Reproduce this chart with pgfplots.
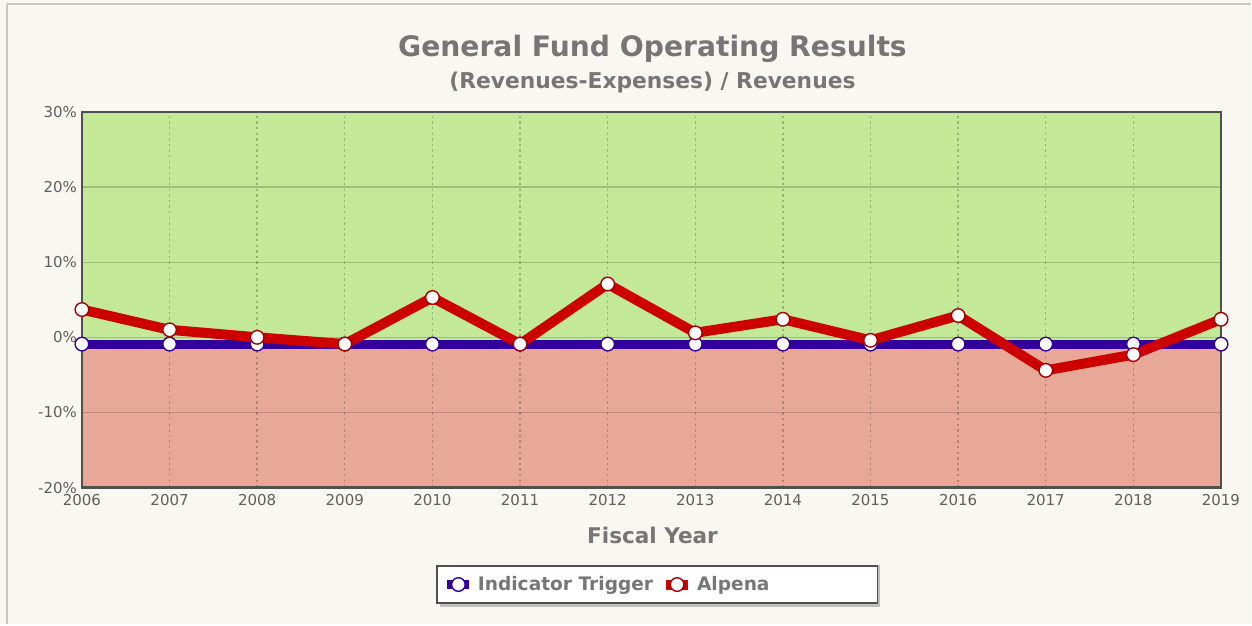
\documentclass[border=0pt]{standalone}
\usepackage{pgfplots}
\pgfplotsset{compat=1.18}
\usepackage{fontspec}
\setmainfont{DejaVu Sans}
\definecolor{bg}{RGB}{248,247,241}
\definecolor{goodfill}{RGB}{194,232,152}
\definecolor{badfill}{RGB}{232,168,152}
\definecolor{trig}{RGB}{51,0,153}
\definecolor{alp}{RGB}{204,0,0}
\definecolor{txt}{RGB}{118,118,118}
\definecolor{ticktxt}{RGB}{95,95,95}
\definecolor{frame}{RGB}{80,80,80}
\pgfplotsset{layers/mylayers/.define layer set={paper,axis background,axis grid,axis ticks,axis lines,axis tick labels,main,axis descriptions,axis foreground}{}}
\begin{document}
\begin{tikzpicture}[x=1pt,y=1pt]
\begin{axis}[
  set layers=mylayers,
  clip=false,
  at={(41pt,68.5pt)}, anchor=south west,
  scale only axis, width=570pt, height=188pt,
  xmin=2006, xmax=2019, ymin=-20, ymax=30,
  xtick={2006,...,2019}, ytick={-20,-10,0,10,20,30},
  yticklabel={\pgfmathprintnumber{\tick}\%},
  /pgf/number format/1000 sep={},
  /pgf/number format/assume math mode=true,
  ticklabel style={font=\fontsize{7.5}{9}\selectfont, text=ticktxt},
  xticklabel style={yshift=0pt},
  yticklabel style={xshift=1pt},
  major tick length=0pt,
  axis line style={draw=frame, line width=1.4pt},
  ymajorgrids, xmajorgrids,
  y grid style={black, opacity=0.18, line width=0.6pt},
  x grid style={black, opacity=0.22, dash pattern=on 1.2pt off 1.6pt, line width=0.7pt},
  legend columns=-1,
  legend style={at={(0.505,-0.258)}, anchor=center, draw=frame, line width=0.6pt, fill=white,
    font=\fontsize{9.3}{11}\selectfont\bfseries\color{txt},
    inner xsep=3pt, inner ysep=3pt,
    /tikz/every even column/.append style={column sep=2pt}},
  legend image code/.code={\draw[mark repeat=2,mark phase=2,#1] plot coordinates {(0pt,0pt) (5.5pt,0pt) (11pt,0pt)};},
]
\begin{pgfonlayer}{paper}
\fill[bg] ([xshift=-41pt,yshift=-68.5pt]rel axis cs:0,0) rectangle ++(626pt,312.5pt);
\draw[black!22, line width=1pt] ([xshift=-37.5pt,yshift=-68.5pt]rel axis cs:0,0) -- ++(0pt,310.5pt) -- ++(622.5pt,0pt);
\fill[black!25] ([xshift=-41pt,yshift=-68.5pt]rel axis cs:0,0) ++(220.2pt,8.6pt) rectangle ++(220pt,21pt);
\end{pgfonlayer}
\addplot[on layer=axis background, fill=goodfill, draw=none, forget plot] coordinates {(2006,-0.9) (2006,30) (2019,30) (2019,-0.9)};
\addplot[on layer=axis background, fill=badfill, draw=none, forget plot] coordinates {(2006,-20) (2006,-0.9) (2019,-0.9) (2019,-20)};
\addplot[trig, line width=4.5pt, mark=*, mark size=3.4pt, mark options={fill=white, draw=trig, line width=0.7pt}] coordinates {
(2006,-0.9) (2007,-0.9) (2008,-0.9) (2009,-0.9) (2010,-0.9) (2011,-0.9) (2012,-0.9)
(2013,-0.9) (2014,-0.9) (2015,-0.9) (2016,-0.9) (2017,-0.9) (2018,-0.9) (2019,-0.9)};
\addlegendentry{Indicator Trigger}
\addplot[alp, line width=5pt, line join=round, mark=*, mark size=3.4pt, mark options={fill=white, draw=alp!80!black, line width=0.7pt}] coordinates {
(2006,3.7) (2007,1.0) (2008,0.0) (2009,-0.9) (2010,5.3) (2011,-0.9) (2012,7.1)
(2013,0.6) (2014,2.4) (2015,-0.4) (2016,2.9) (2017,-4.4) (2018,-2.3) (2019,2.4)};
\addlegendentry{Alpena}
\addlegendimage{empty legend}
\addlegendentry{\rule{43pt}{0pt}}
\end{axis}
\node[font=\bfseries\fontsize{14.1}{17}\selectfont, text=txt] at (326.5,288) {General Fund Operating Results};
\node[font=\bfseries\fontsize{10.9}{13}\selectfont, text=txt] at (326.5,271) {(Revenues-Expenses) / Revenues};
\node[font=\bfseries\fontsize{10.8}{12}\selectfont, text=txt] at (326.5,44.5) {Fiscal Year};
\end{tikzpicture}
\end{document}
